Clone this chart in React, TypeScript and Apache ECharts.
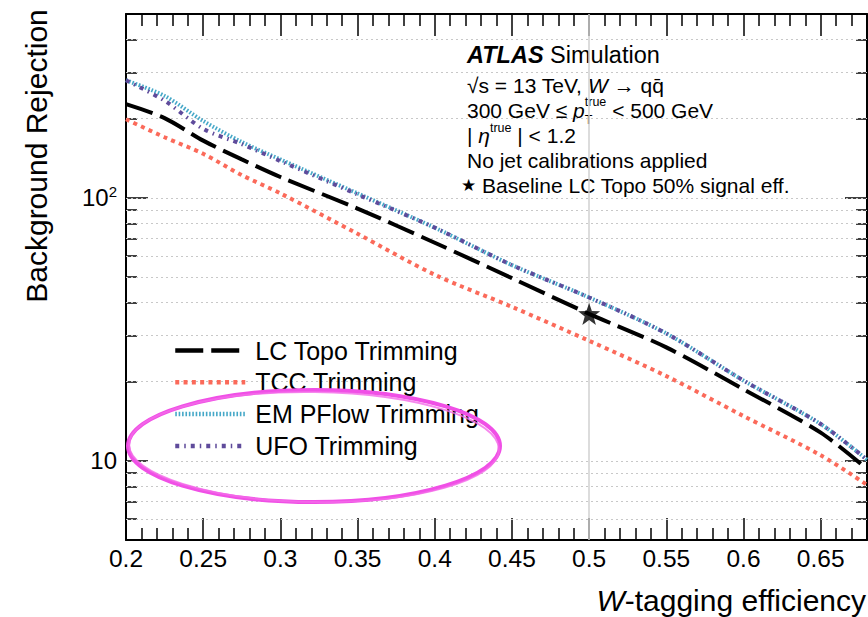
import React, { useEffect, useRef } from 'react';
import * as echarts from 'echarts';

// ---------------- data ----------------
const efficiency = [0.2, 0.225, 0.25, 0.275, 0.3, 0.35, 0.4, 0.45, 0.5, 0.55, 0.6, 0.65, 0.68];
const lcTopoTrimming = [227, 201, 165, 140, 120, 91, 67.5, 49.5, 36.2, 27, 18.7, 12.8, 9.3];
const tccTrimming = [199, 170, 147, 122, 104, 73, 51, 38.5, 28.6, 21, 14.8, 10.5, 8.1];
const emPflowTrimming = [280, 244, 196, 163, 140, 104, 77, 55.5, 41.8, 30.5, 20.2, 13.8, 10.1];
const ufoTrimming = [280, 234, 183, 160, 138, 103, 77, 55.5, 41.8, 30.5, 20.2, 13.8, 10.1];
const baselinePoint = [0.5, 36.2];
const seriesNames = ['LC Topo Trimming', 'TCC Trimming', 'EM PFlow Trimming', 'UFO Trimming'];
const yMinorTicks = [6, 7, 8, 9, 20, 30, 40, 50, 60, 70, 80, 90, 200, 300, 400];
const yGridValues = [6, 7, 8, 9, 10, 20, 30, 40, 50, 60, 70, 80, 90, 100, 200, 300, 400];
const verticalGridAt = 0.5;

const FONT = '"Liberation Sans", Arial, Helvetica, sans-serif';

function textWidth(s: string, size: number, italic = false, bold = false, family = FONT) {
  const c = document.createElement('canvas').getContext('2d') as CanvasRenderingContext2D;
  c.font = `${italic ? 'italic' : 'normal'} ${bold ? 'bold' : 'normal'} ${size}px ${family}`;
  return c.measureText(s).width;
}

type Piece = { t: string; size?: number; italic?: boolean; bold?: boolean; dy?: number; stack?: boolean; family?: string };

function lineElements(x0: number, y: number, pieces: Piece[], baseSize = 21) {
  let x = x0;
  let lastStart = x0;
  const els: any[] = [];
  for (const p of pieces) {
    const size = p.size ?? baseSize;
    const sx = p.stack ? lastStart : x;
    els.push({
      type: 'text',
      x: sx,
      y: y + (p.dy ?? 0),
      silent: true,
      style: {
        text: p.t,
        fontSize: size,
        fontStyle: p.italic ? 'italic' : 'normal',
        fontWeight: p.bold ? 'bold' : 'normal',
        fontFamily: p.family ?? FONT,
        fill: '#000',
        align: 'left',
        verticalAlign: 'middle',
      },
    });
    const w = textWidth(p.t, size, p.italic, p.bold, p.family ?? FONT);
    if (p.stack) {
      x = Math.max(x, sx + w);
    } else {
      lastStart = x;
      x = x + w;
    }
  }
  return els;
}

function buildOption() {
  const tx = 467;
  const annotation = [
    ...lineElements(tx, 55, [{ t: 'ATLAS', bold: true, italic: true, size: 23.5 }, { t: ' Simulation', size: 23.5 }]),
    ...lineElements(tx, 85, [{ t: '\u221As = 13 TeV, ' }, { t: 'W', italic: true }, { t: ' \u2192 qq\u0304' }]),
    ...lineElements(tx, 110, [
      { t: '300 GeV \u2264 ' },
      { t: 'p', italic: true },
      { t: 'true', size: 12.5, dy: -8 },
      { t: 'T', size: 12.5, dy: 10, stack: true },
      { t: ' < 500 GeV' },
    ]),
    ...lineElements(tx, 135, [
      { t: '| ' },
      { t: '\u03B7', italic: true },
      { t: 'true', size: 12.5, dy: -7 },
      { t: ' | < 1.2' },
    ]),
    ...lineElements(tx, 160, [{ t: 'No jet calibrations applied' }]),
    ...lineElements(461, 185, [
      { t: '\u2605', size: 17, family: '"DejaVu Sans", sans-serif' },
      { t: ' Baseline LC Topo 50% signal eff.' },
    ]),
  ];

  const xAxisBase = (position: 'bottom' | 'top') => ({
    type: 'value',
    position,
    min: 0.2,
    max: 0.68,
    interval: 0.05,
    axisLine: { show: true, onZero: false, lineStyle: { color: '#000', width: 2 } },
    axisTick: { show: true, inside: true, length: 22, lineStyle: { color: '#000', width: 1.5 } },
    minorTick: { show: true, splitNumber: 5, length: 12, lineStyle: { color: '#000', width: 1.5 } },
    splitLine: { show: false },
    axisLabel:
      position === 'bottom'
        ? { show: true, fontSize: 24.5, fontFamily: FONT, color: '#000', margin: 6, showMaxLabel: false }
        : { show: false },
  });

  const yAxisMain = (position: 'left' | 'right') => ({
    type: 'log',
    logBase: 10,
    position,
    min: 5,
    max: 500,
    axisLine: { show: true, onZero: false, lineStyle: { color: '#000', width: 2 } },
    axisTick: { show: true, inside: true, length: 22, lineStyle: { color: '#000', width: 1.5 } },
    splitLine: { show: false },
    axisLabel:
      position === 'left'
        ? {
            show: true,
            showMinLabel: false,
            showMaxLabel: false,
            margin: 9,
            fontFamily: FONT,
            color: '#000',
            fontSize: 24,
            formatter: (v: number) => {
              const r = Math.round(v);
              if (r === 100) return '{b|10}{s|2}';
              if (r === 10) return '{b|10}';
              return '';
            },
            rich: {
              b: { fontSize: 24, fontFamily: FONT, color: '#000' },
              s: { fontSize: 15, fontFamily: FONT, color: '#000', padding: [0, 0, 13, 0] },
            },
          }
        : { show: false },
  });

  const yAxisMinor = (position: 'left' | 'right') => ({
    type: 'log',
    logBase: 10,
    position,
    min: 5,
    max: 500,
    axisLine: { show: false },
    axisTick: { show: true, inside: true, length: 11, customValues: yMinorTicks, lineStyle: { color: '#000', width: 1.5 } },
    splitLine: { show: false },
    axisLabel: { show: false },
  });

  const lineSeries = (name: string, values: number[], color: string, dash: number[], width = 4) => ({
    name,
    type: 'line',
    xAxisIndex: 0,
    yAxisIndex: 0,
    data: efficiency.map((e, i) => [e, values[i]]),
    symbol: 'none',
    showSymbol: false,
    smooth: 0.3,
    z: 3,
    lineStyle: { color, width, type: dash, cap: 'butt' },
    itemStyle: { color },
  });

  return {
    animation: false,
    backgroundColor: '#fff',
    grid: { left: 126, right: 1, top: 14, bottom: 77, containLabel: false },
    xAxis: [xAxisBase('bottom'), xAxisBase('top')],
    yAxis: [yAxisMain('left'), yAxisMinor('left'), yAxisMain('right'), yAxisMinor('right')],
    legend: {
      data: seriesNames,
      orient: 'vertical',
      left: 168,
      top: 333,
      itemWidth: 70,
      itemHeight: 22,
      itemGap: 6.8,
      selectedMode: false,
      itemStyle: { opacity: 0 },
      lineStyle: { width: 4.5 },
      textStyle: { fontSize: 25, fontFamily: FONT, color: '#000', padding: [0, 0, 0, 5] },
    },
    series: [
      {
        name: '_grid',
        type: 'line',
        data: [],
        z: 1,
        silent: true,
        markLine: {
          z: 1,
          silent: true,
          symbol: 'none',
          label: { show: false },
          lineStyle: { color: '#c8c8c8', type: [2, 3], width: 1 },
          data: [
            ...yGridValues.map((v) => ({ yAxis: v })),
            { xAxis: verticalGridAt, lineStyle: { color: '#d0d0d0', type: 'solid', width: 1.5 } },
          ],
        },
      },
      lineSeries(seriesNames[0], lcTopoTrimming, '#000000', [28, 8]),
      lineSeries(seriesNames[1], tccTrimming, '#fb6a5a', [4, 4.3]),
      lineSeries(seriesNames[2], emPflowTrimming, '#46a8c8', [1.6, 1.8]),
      lineSeries(seriesNames[3], ufoTrimming, '#5f4b9b', [4, 5, 1.5, 5]),
      {
        name: 'Baseline',
        type: 'scatter',
        data: [baselinePoint],
        symbol:
          'path://M0,-10L2.351,-3.236L9.511,-3.09L3.804,1.236L5.878,8.09L0,4L-5.878,8.09L-3.804,1.236L-9.511,-3.09L-2.351,-3.236Z',
        symbolSize: 22,
        itemStyle: { color: '#000' },
        z: 10,
      },
    ],
    graphic: [
      ...annotation,
      {
        type: 'text',
        x: 36,
        y: 156,
        rotation: Math.PI / 2,
        silent: true,
        style: {
          text: 'Background Rejection',
          fontSize: 30,
          fontFamily: FONT,
          fill: '#000',
          align: 'center',
          verticalAlign: 'middle',
        },
      },
      {
        type: 'text',
        x: 866,
        y: 600,
        silent: true,
        style: {
          text: '{i|W}-tagging efficiency',
          fontSize: 30,
          fontFamily: FONT,
          fill: '#000',
          align: 'right',
          verticalAlign: 'middle',
          rich: { i: { fontSize: 30, fontFamily: FONT, fontStyle: 'italic', fill: '#000' } },
        },
      },
      {
        type: 'ellipse',
        silent: true,
        z: 100,
        shape: { cx: 314, cy: 446, rx: 186, ry: 56 },
        style: { fill: 'none', stroke: '#f04fe6', lineWidth: 4 },
      },
      {
        type: 'ellipse',
        silent: true,
        z: 100,
        rotation: -0.015,
        originX: 314,
        originY: 447,
        shape: { cx: 314, cy: 447, rx: 185, ry: 55 },
        style: { fill: 'none', stroke: '#f46ae9', lineWidth: 2, opacity: 0.8 },
      },
    ],
  };
}

export default function App() {
  const ref = useRef<HTMLDivElement>(null);
  useEffect(() => {
    if (!ref.current) return;
    const chart = echarts.init(ref.current, null, { renderer: 'svg' });
    chart.setOption(buildOption() as any);
    return () => chart.dispose();
  }, []);
  return (
    <div
      ref={ref}
      style={{ position: 'fixed', left: 0, top: 0, width: 868, height: 617, background: '#fff' }}
    />
  );
}
